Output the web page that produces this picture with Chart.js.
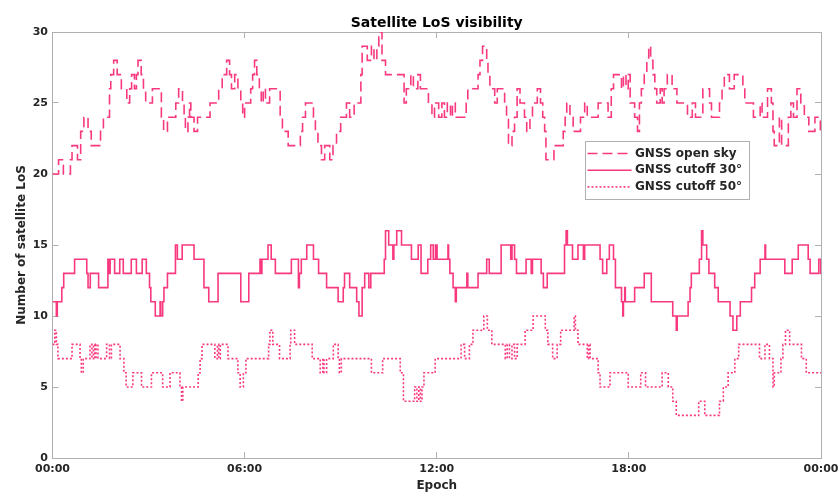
<!DOCTYPE html>
<html>
<head>
<meta charset="utf-8">
<title>Satellite LoS visibility</title>
<script src="https://cdn.jsdelivr.net/npm/chart.js@4.4.1/dist/chart.umd.min.js"></script>
<style>
    html, body { margin: 0; padding: 0; background: #fff; }
    canvas { display: block; }
</style>
</head>
<body>
<canvas id="chart" width="839" height="493"></canvas>
<script>
// epochs in hours after 00:00; each value holds until the next epoch
const skyT = [0, 0.19, 0.34, 0.56, 0.61, 0.78, 0.88, 0.98, 1.11, 1.21, 1.50, 1.59, 1.78, 1.82, 1.91, 2.02, 2.15, 2.32, 2.41, 2.47,
    2.56, 2.62, 2.67, 2.77, 2.84, 2.91, 3.12, 3.40, 3.47, 3.59, 3.85, 3.94, 4.06, 4.11, 4.15, 4.23, 4.28, 4.32, 4.42, 4.53,
    4.92, 5.19, 5.30, 5.44, 5.53, 5.59, 5.69, 5.79, 5.88, 5.94, 6.00, 6.19, 6.25, 6.31, 6.38, 6.46, 6.52, 6.58, 6.65, 6.78,
    7.11, 7.18, 7.36, 7.74, 7.81, 7.90, 8.15, 8.21, 8.29, 8.40, 8.50, 8.66, 8.76, 8.87, 9.00, 9.18, 9.28, 9.42, 9.63, 9.67,
    9.83, 9.96, 10.04, 10.13, 10.19, 10.29, 10.40, 10.98, 11.05, 11.19, 11.27, 11.41, 11.49, 11.74, 11.85, 11.93, 12.06, 12.16, 12.24, 12.33,
    12.43, 12.49, 12.58, 12.92, 12.97, 13.29, 13.35, 13.43, 13.56, 13.60, 13.66, 13.81, 13.89, 14.12, 14.18, 14.24, 14.35, 14.43, 14.51, 14.60,
    14.74, 14.81, 14.91, 14.99, 15.14, 15.24, 15.31, 15.37, 15.41, 15.66, 15.95, 16.01, 16.06, 16.16, 16.26, 16.49, 16.62, 16.70, 17.04, 17.35,
    17.45, 17.52, 17.77, 17.83, 17.91, 17.98, 18.04, 18.18, 18.27, 18.33, 18.39, 18.48, 18.56, 18.62, 18.68, 18.75, 18.81, 18.87, 18.98, 19.04,
    19.10, 19.20, 19.35, 19.50, 19.83, 19.98, 20.08, 20.31, 20.52, 20.58, 20.83, 20.91, 20.98, 21.14, 21.29, 21.56, 21.62, 21.89, 22.10, 22.16,
    22.33, 22.45, 22.50, 22.54, 22.70, 22.77, 22.98, 23.06, 23.14, 23.25, 23.37, 23.48, 23.62, 23.81, 23.98, 24];
const skyV = [20, 21, 20, 21, 22, 21, 23, 24, 23, 22, 23, 24, 26, 27, 28, 27, 26, 25, 26, 27,
    26, 27, 28, 27, 26, 25, 26, 24, 23, 24, 25, 26, 25, 24, 23, 24, 25, 24, 23, 24,
    25, 26, 27, 28, 27, 26, 27, 26, 25, 24, 25, 26, 27, 28, 27, 26, 25, 26, 25, 26,
    24, 23, 22, 23, 24, 25, 24, 23, 22, 21, 22, 21, 22, 23, 24, 25, 24, 25, 27, 29,
    28, 29, 28, 29, 30, 28, 27, 25, 26, 27, 26, 27, 26, 25, 24, 25, 24, 25, 24, 25,
    24, 25, 24, 25, 26, 27, 28, 29, 28, 27, 26, 25, 26, 25, 24, 22, 23, 24, 26, 25,
    24, 23, 24, 25, 26, 25, 24, 23, 21, 22, 23, 24, 25, 24, 23, 24, 25, 24, 25, 24,
    26, 27, 26, 27, 26, 27, 25, 24, 23, 25, 26, 27, 28, 29, 28, 27, 26, 25, 26, 25,
    26, 27, 26, 25, 24, 25, 24, 26, 25, 24, 25, 26, 27, 26, 27, 26, 25, 24, 25, 24,
    26, 25, 23, 22, 24, 22, 24, 25, 24, 26, 25, 24, 23, 24, 23, 23];

const cut30T = [0, 0.12, 0.15, 0.29, 0.35, 0.69, 1.07, 1.11, 1.18, 1.44, 1.73, 1.77, 1.80, 1.94, 2.10, 2.21, 2.46, 2.62, 2.80, 2.93,
    3.03, 3.07, 3.21, 3.36, 3.38, 3.44, 3.48, 3.59, 3.84, 3.90, 4.05, 4.42, 4.73, 4.88, 5.17, 5.88, 6.13, 6.48, 6.50, 6.54,
    6.73, 6.83, 6.96, 7.46, 7.68, 7.71, 7.77, 7.94, 8.15, 8.31, 8.56, 8.92, 9.08, 9.12, 9.28, 9.50, 9.57, 9.67, 9.75, 9.88,
    9.94, 10.36, 10.40, 10.50, 10.63, 10.66, 10.75, 10.90, 11.21, 11.42, 11.51, 11.72, 11.81, 11.89, 11.96, 12.01, 12.35, 12.37, 12.41, 12.51,
    12.58, 12.61, 12.94, 12.97, 13.29, 13.56, 13.64, 14.01, 14.31, 14.35, 14.43, 14.49, 14.79, 14.95, 14.99, 15.26, 15.33, 15.45, 15.99, 16.04,
    16.08, 16.24, 16.41, 16.58, 16.62, 17.10, 17.18, 17.31, 17.39, 17.52, 17.58, 17.77, 17.81, 17.83, 17.87, 17.89, 18.18, 18.48, 18.70, 19.37,
    19.48, 19.51, 19.85, 19.91, 19.95, 20.20, 20.27, 20.31, 20.43, 20.50, 20.68, 20.79, 21.16, 21.25, 21.37, 21.48, 21.83, 21.93, 22.10, 22.25,
    22.27, 22.87, 23.10, 23.29, 23.60, 23.66, 23.93, 23.99, 24];
const cut30V = [11, 10, 11, 12, 13, 14, 13, 12, 13, 12, 14, 13, 14, 13, 14, 13, 14, 13, 14, 13,
    12, 11, 10, 11, 10, 11, 12, 13, 15, 14, 15, 14, 12, 11, 13, 11, 13, 14, 13, 14,
    15, 14, 13, 14, 12, 13, 14, 15, 14, 13, 12, 11, 12, 13, 12, 11, 10, 12, 13, 12,
    13, 14, 16, 15, 14, 15, 16, 15, 14, 15, 13, 14, 15, 14, 15, 14, 15, 14, 13, 12,
    11, 12, 13, 12, 13, 14, 13, 15, 14, 15, 14, 13, 14, 13, 14, 13, 12, 13, 15, 16,
    15, 14, 15, 14, 15, 14, 13, 14, 15, 14, 12, 11, 10, 11, 12, 11, 12, 13, 11, 10,
    9, 10, 11, 12, 13, 14, 16, 15, 14, 13, 12, 11, 10, 9, 10, 11, 12, 13, 14, 15,
    14, 13, 14, 15, 14, 13, 14, 13, 13];

const cut50T = [0, 0.07, 0.12, 0.17, 0.61, 0.86, 0.90, 0.96, 1.17, 1.23, 1.28, 1.32, 1.36, 1.42, 1.69, 1.78, 1.84, 2.11, 2.23, 2.30,
    2.51, 2.78, 3.09, 3.44, 3.67, 3.98, 4.03, 4.07, 4.55, 4.61, 4.67, 5.07, 5.15, 5.19, 5.24, 5.48, 5.79, 5.86, 5.96, 6.04,
    6.75, 6.79, 6.88, 7.09, 7.42, 7.44, 7.56, 8.11, 8.36, 8.44, 8.48, 8.56, 8.77, 8.92, 8.96, 9.02, 9.96, 10.31, 10.86, 10.96,
    11.31, 11.38, 11.44, 11.49, 11.54, 11.60, 11.95, 12.76, 12.87, 13.02, 13.13, 13.47, 13.58, 13.72, 14.14, 14.20, 14.27, 14.35, 14.43, 14.51,
    14.76, 15.01, 15.39, 15.47, 15.62, 15.76, 15.87, 16.29, 16.33, 16.41, 16.70, 16.74, 16.79, 17.04, 17.10, 17.41, 17.98, 18.37, 18.52, 19.04,
    19.23, 19.37, 19.48, 20.18, 20.37, 20.83, 20.95, 21.10, 21.31, 21.43, 22.08, 22.25, 22.39, 22.50, 22.54, 22.75, 22.81, 22.89, 23.02, 23.39,
    23.54, 24];
const cut50V = [8, 9, 8, 7, 8, 7, 6, 7, 8, 7, 8, 7, 8, 7, 8, 7, 8, 7, 6, 5,
    6, 5, 6, 5, 6, 5, 4, 5, 6, 7, 8, 7, 8, 7, 8, 7, 6, 5, 6, 7,
    8, 9, 8, 7, 8, 9, 8, 7, 6, 7, 6, 7, 8, 7, 6, 7, 6, 7, 6, 4,
    5, 4, 5, 4, 5, 6, 7, 8, 7, 8, 9, 10, 9, 8, 7, 8, 7, 8, 7, 8,
    9, 10, 9, 8, 7, 8, 9, 10, 9, 8, 7, 8, 7, 6, 5, 6, 5, 6, 5, 6,
    5, 4, 3, 4, 3, 4, 5, 6, 7, 8, 7, 8, 7, 5, 6, 7, 8, 9, 8, 7,
    6, 6];

const seriesNames = ["GNSS open sky", "GNSS cutoff 30°", "GNSS cutoff 50°"];
const xTickLabels = ["00:00", "06:00", "12:00", "18:00", "00:00"];

const pink = "#f8397f";
const axisGray = "#b0b0b0";
const textDark = "#262626";
const family = "'DejaVu Sans', sans-serif";

function toPoints(t, v) {
    return t.map((x, i) => ({x: x, y: v[i]}));
}

// matlab-like inward ticks on all four sides
function boxAxis(position, min, max, step, size, showLabels) {
    const horizontal = position === "top" || position === "bottom";
    return {
        type: "linear",
        position: position,
        min: min,
        max: max,
        border: {display: true, color: axisGray, width: 1},
        grid: {drawOnChartArea: false, drawTicks: true, tickLength: -6, tickColor: axisGray, tickWidth: 1},
        ticks: {
            display: showLabels,
            stepSize: step,
            color: textDark,
            font: {family: family, size: 11, weight: "bold"},
            padding: horizontal ? 11 : 10.5,
            maxRotation: 0,
            callback: horizontal ? (v) => xTickLabels[Math.round(v / 6)] : (v) => v,
        },
        afterFit: (scale) => {
            if (horizontal) scale.height = size;
            else scale.width = size;
            // labels may overhang the plot edges, keep the plot box fixed
            scale.paddingLeft = 0;
            scale.paddingRight = 0;
            scale.paddingTop = 0;
            scale.paddingBottom = 0;
        },
    };
}

const plotTitle = {
    id: "plotTitle",
    afterDraw(chart) {
        const {ctx, chartArea} = chart;
        ctx.save();
        ctx.font = "bold 14px " + family;
        ctx.fillStyle = "#000";
        ctx.textAlign = "center";
        ctx.textBaseline = "alphabetic";
        ctx.fillText("Satellite LoS visibility", (chartArea.left + chartArea.right) / 2, 26.5);
        ctx.restore();
    },
};

const boxLegend = {
    id: "boxLegend",
    afterDraw(chart) {
        const ctx = chart.ctx;
        const x0 = 585.5, y0 = 141.5, w = 164, h = 58;
        ctx.save();
        ctx.fillStyle = "#fff";
        ctx.fillRect(x0, y0, w, h);
        ctx.strokeStyle = axisGray;
        ctx.lineWidth = 1;
        ctx.strokeRect(x0, y0, w, h);
        ctx.font = "bold 12px " + family;
        ctx.textBaseline = "middle";
        ctx.textAlign = "left";
        chart.data.datasets.forEach((ds, i) => {
            const y = y0 + 12 + i * 16.7;
            ctx.strokeStyle = ds.borderColor;
            ctx.lineWidth = ds.borderWidth;
            ctx.setLineDash(ds.borderDash || []);
            ctx.beginPath();
            ctx.moveTo(x0 + 2, y);
            ctx.lineTo(x0 + 46, y);
            ctx.stroke();
            ctx.setLineDash([]);
            ctx.fillStyle = textDark;
            ctx.fillText(ds.label, x0 + 49.5, y);
        });
        ctx.restore();
    },
};

const lineStyle = {
    borderColor: pink,
    borderWidth: 1.6,
    pointRadius: 0,
    stepped: true,
    fill: false,
};

new Chart(document.getElementById("chart"), {
    type: "line",
    data: {
        datasets: [
            {...lineStyle, label: seriesNames[0], data: toPoints(skyT, skyV), borderDash: [10, 5]},
            {...lineStyle, label: seriesNames[1], data: toPoints(cut30T, cut30V)},
            {...lineStyle, label: seriesNames[2], data: toPoints(cut50T, cut50V), borderDash: [2, 2]},
        ],
    },
    options: {
        responsive: false,
        animation: false,
        devicePixelRatio: 1,
        layout: {padding: {top: 32, right: 18, left: 0, bottom: 0}},
        plugins: {
            legend: {display: false},
            tooltip: {enabled: false},
            title: {display: false},
        },
        scales: {
            x: {
                ...boxAxis("bottom", 0, 24, 6, 35, true),
                title: {
                    display: true,
                    text: "Epoch",
                    color: textDark,
                    font: {family: family, size: 12, weight: "bold"},
                    padding: {top: 0, bottom: 0},
                },
            },
            y: {
                ...boxAxis("left", 0, 30, 5, 52.5, true),
                title: {
                    display: true,
                    text: "Number of satellite LoS",
                    color: textDark,
                    font: {family: family, size: 12, weight: "bold"},
                    padding: {top: 15, bottom: 0},
                },
            },
            x2: boxAxis("top", 0, 24, 6, 0, false),
            y2: boxAxis("right", 0, 30, 5, 0, false),
        },
    },
    plugins: [plotTitle, boxLegend],
});
</script>
</body>
</html>
